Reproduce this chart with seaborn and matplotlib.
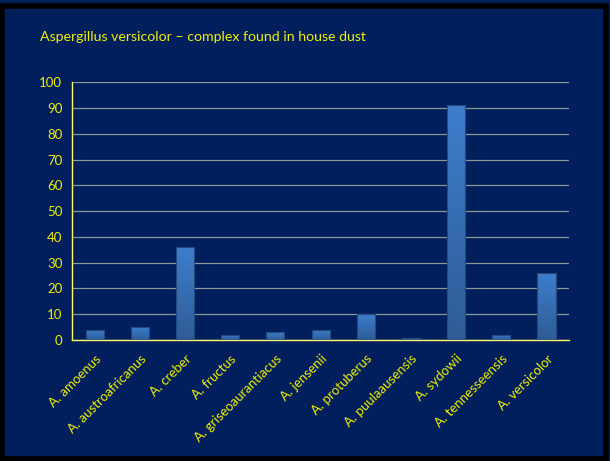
import numpy as np
import pandas as pd
import matplotlib
matplotlib.use("Agg")
import matplotlib.pyplot as plt
import seaborn as sns
from matplotlib.patches import Rectangle

species = ["A. amoenus", "A. austroafricanus", "A. creber", "A. fructus",
           "A. griseoaurantiacus", "A. jensenii", "A. protuberus",
           "A. puulaausensis", "A. sydowii", "A. tennesseensis", "A. versicolor"]
counts = [4, 5, 36, 2, 3, 4, 10, 0.7, 91, 2, 26]
yticks = [0, 10, 20, 30, 40, 50, 60, 70, 80, 90, 100]
title = "Aspergillus versicolor \u2013 complex found in house dust"

BG = "#001F5C"
YEL = "#F0F000"
GRID = "#8A9898"

sns.set_theme(style="white")
plt.rcParams['font.family'] = ['Lato', 'DejaVu Sans']

fig = plt.figure(figsize=(6.1, 4.61), dpi=100, facecolor=BG)
ax = fig.add_axes([0.118, 0.2625, 0.815, 0.559])
ax.set_facecolor(BG)

df = pd.DataFrame({"species": species, "count": counts})
sns.barplot(data=df, x="species", y="count", ax=ax, width=0.4,
            color="#3A74BE", edgecolor="#24497E", linewidth=0.8, zorder=3)

# vertical gradient inside each bar (lighter at top)
grad = np.linspace(0, 1, 256).reshape(-1, 1)
cmap = matplotlib.colors.LinearSegmentedColormap.from_list("g", ["#3E7ECD", "#2E5C96"])
for p in ax.patches:
    x0, y0 = p.get_x(), p.get_y()
    w, h = p.get_width(), p.get_height()
    im = ax.imshow(grad, cmap=cmap, aspect="auto", extent=[x0, x0 + w, y0, y0 + h],
                   origin="upper", zorder=3.5)
    im.set_clip_path(p)
    p.set_facecolor("none")
    p.set_zorder(4)

ax.set_xlim(-0.5, len(species) - 0.5)
ax.set_ylim(0, 100)
ax.set_yticks(yticks)
ax.set_yticklabels([str(v) for v in yticks], color=YEL, fontsize=9.5)
ax.yaxis.grid(True, color=GRID, linewidth=0.9, zorder=0)
ax.set_axisbelow(True)
ax.set_xlabel("")
ax.set_ylabel("")

ax.set_xticks(np.arange(len(species)))
ax.set_xticklabels(species, rotation=45, ha="right", rotation_mode="anchor",
                   color=YEL, fontsize=9.5)
ax.tick_params(axis="x", which="major", length=0, pad=9)
ax.set_xticks(np.arange(-0.5, len(species), 1.0), minor=True)
ax.tick_params(axis="x", which="minor", length=4, color=GRID, width=0.8, direction="out")
ax.tick_params(axis="y", length=4, color=GRID, width=0.8, direction="out", pad=3)

for s in ["top", "right"]:
    ax.spines[s].set_visible(False)
for s in ["left", "bottom"]:
    ax.spines[s].set_visible(True)
    ax.spines[s].set_color("#FFFF66")
    ax.spines[s].set_linewidth(1.0)

fig.text(40 / 610, 1 - 37 / 461, title, color=YEL, fontsize=10.2, ha="left", va="center")

# black frame around slide
fig.patches.append(Rectangle((0.004, 0.004), 0.99, 0.984, transform=fig.transFigure,
                             fill=False, edgecolor="black", linewidth=4))

fig.savefig("out.png", dpi=100, facecolor=BG)
